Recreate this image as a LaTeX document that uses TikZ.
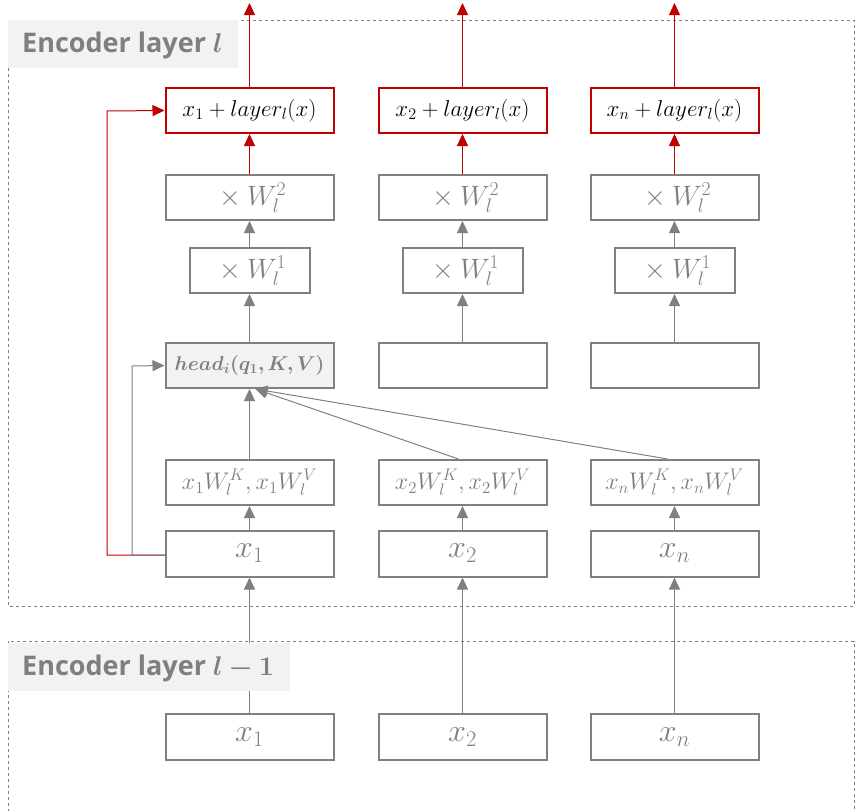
\RequirePackage{fix-cm}
\documentclass[tikz,border=0pt]{standalone}
\usepackage{fontspec}
\usepackage{bm}
\setsansfont{Open Sans}
\usetikzlibrary{arrows.meta,calc}
\definecolor{gtxt}{HTML}{7F7F7F}
\definecolor{gline}{HTML}{808080}
\definecolor{dred}{HTML}{C00000}
\definecolor{lfill}{HTML}{F2F2F2}
\begin{document}
\begin{tikzpicture}[x=1pt,y=-1pt,
  box/.style={draw=gline,line width=2pt,minimum width=168pt,minimum height=45pt,inner sep=0pt,text=gtxt,fill=white},
  smallbox/.style={box,minimum width=120pt},
  redbox/.style={box,draw=dred,text=black},
  conn/.style={draw=gline,line width=1pt,-{Triangle[length=12pt,width=11pt]}},
  rconn/.style={draw=dred,line width=1pt,-{Triangle[length=12pt,width=11pt]}},
  layerframe/.style={draw=gline,dashed,line width=0.7pt},
  labbg/.style={fill=lfill,anchor=north west,inner sep=0pt},
  labtext/.style={text=gtxt,anchor=west,inner sep=0pt,font=\sffamily\bfseries\fontsize{27}{32}\selectfont}
]
\useasboundingbox (0,0) rectangle (863,811);
\clip (0,0) rectangle (863,811);
\draw[layerframe] (8,20) rectangle (854,606);
\draw[layerframe] (8,641) rectangle (854,830);
\foreach \cx/\sb/\nm in {249.5/1/a,462.5/2/b,674.5/n/c}{
  \node[redbox,font=\fontsize{23}{27}\selectfont] (r\nm) at (\cx,110.5) {$x_{\sb}+layer_{l}(x)$};
  \node[box,font=\fontsize{28}{32}\selectfont] (wb\nm) at (\cx,197.5) {${}\times W_l^2$};
  \node[smallbox,font=\fontsize{28}{32}\selectfont] (wa\nm) at (\cx,270.5) {${}\times W_l^1$};
  \node[box,font=\fontsize{24}{28}\selectfont] (kv\nm) at (\cx,482.5) {$x_{\sb}W_l^K,x_{\sb}W_l^V$};
  \node[box,minimum height=46pt,font=\fontsize{32}{36}\selectfont] (x\nm) at (\cx,553.5) {$x_{\sb}$};
  \node[box,minimum height=46pt,font=\fontsize{32}{36}\selectfont] (y\nm) at (\cx,737) {$x_{\sb}$};
  \coordinate (top\nm) at (\cx,3);
}
\node[box,fill=lfill,font=\fontsize{20}{24}\selectfont] (ha) at (249.5,365.5) {$\bm{head_i(q_1,K,V)}$};
\node[box] (hb) at (462.5,365.5) {};
\node[box] (hc) at (674.5,365.5) {};
\coordinate (hit) at ($(ha.south)+(6,0)$);
\foreach \nm in {a,b,c}{
  \draw[rconn] (r\nm.north) -- (top\nm);
  \draw[rconn] (wb\nm.north) -- (r\nm.south);
  \draw[conn] (wa\nm.north) -- (wb\nm.south);
  \draw[conn] (h\nm.north) -- (wa\nm.south);
  \draw[conn] (x\nm.north) -- (kv\nm.south);
  \draw[conn] (y\nm.north) -- (x\nm.south);
}
\draw[conn] (kva.north) -- (ha.south);
\coordinate (kvbs) at ($(kvb.north)+(-4,0)$);
\coordinate (kvcs) at ($(kvc.north)+(-7,0)$);
\draw[conn] (kvbs) -- (hit);
\draw[conn] (kvcs) -- (hit);
\coordinate (sk) at ($(xa.west)+(1,1.5)$);
\coordinate (rk) at (107,111);
\coordinate (gk) at (132,366);
\draw[rconn] (sk) -| (rk) -- (ra.west);
\draw[conn] (sk) -| (gk) -- (ha.west);
\node[labbg,minimum width=230pt,minimum height=48pt] (l1) at (8,20) {};
\node[labtext] (l1t) at (22,45) {Encoder layer $\bm{l}$};
\node[labbg,minimum width=282pt,minimum height=48pt] (l2) at (8,643) {};
\node[labtext] (l2t) at (22,668) {Encoder layer $\bm{l-1}$};
\end{tikzpicture}
\end{document}
